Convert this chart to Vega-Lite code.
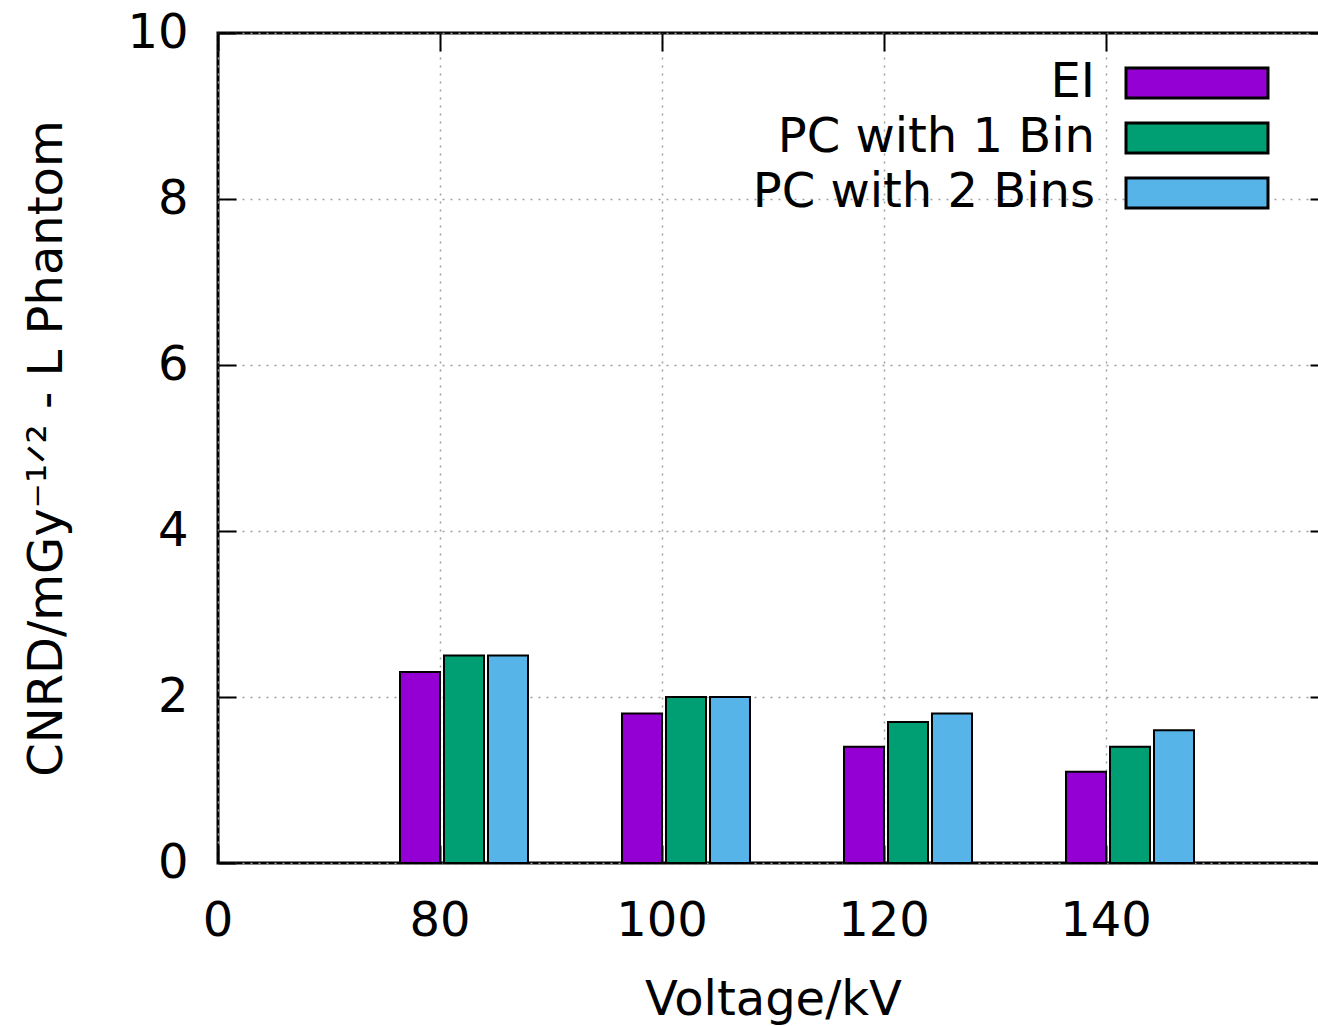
{
  "$schema": "https://vega.github.io/schema/vega-lite/v6.json",
  "width": 1110,
  "height": 830,
  "autosize": {"type": "none"},
  "padding": {"left": 218, "top": 33, "right": -10, "bottom": 163},
  "background": "white",
  "config": {
    "view": {"stroke": "black", "strokeWidth": 3},
    "font": "DejaVu Sans",
    "axis": {
      "labelFont": "DejaVu Sans", "labelFontSize": 48, "labelColor": "black",
      "titleFont": "DejaVu Sans", "titleFontSize": 48, "titleFontWeight": "normal", "titleColor": "black",
      "domain": false, "tickColor": "black", "tickWidth": 2, "tickSize": -18,
      "gridColor": "#a0a0a0", "gridDash": [2, 6], "gridWidth": 1.5
    }
  },
  "data": {"values": [
    {"kV": "80", "series": "EI", "value": 2.3},
    {"kV": "80", "series": "PC with 1 Bin", "value": 2.5},
    {"kV": "80", "series": "PC with 2 Bins", "value": 2.5},
    {"kV": "100", "series": "EI", "value": 1.8},
    {"kV": "100", "series": "PC with 1 Bin", "value": 2.0},
    {"kV": "100", "series": "PC with 2 Bins", "value": 2.0},
    {"kV": "120", "series": "EI", "value": 1.4},
    {"kV": "120", "series": "PC with 1 Bin", "value": 1.7},
    {"kV": "120", "series": "PC with 2 Bins", "value": 1.8},
    {"kV": "140", "series": "EI", "value": 1.1},
    {"kV": "140", "series": "PC with 1 Bin", "value": 1.4},
    {"kV": "140", "series": "PC with 2 Bins", "value": 1.6}
  ]},
  "layer": [
    {
      "mark": {"type": "bar", "stroke": "black", "strokeWidth": 2},
      "encoding": {
        "x": {
          "field": "kV", "type": "nominal",
          "scale": {"domain": ["0", "80", "100", "120", "140"], "paddingInner": 0, "paddingOuter": 0},
          "axis": {"title": "Voltage/kV", "labelAngle": 0, "bandPosition": 0, "labelOffset": -111, "labelPadding": 52, "titlePadding": 31, "grid": true}
        },
        "xOffset": {
          "field": "series", "type": "nominal",
          "scale": {"domain": ["EI", "PC with 1 Bin", "PC with 2 Bins"], "range": [-40, 88], "paddingInner": 0.0909, "paddingOuter": 0}
        },
        "y": {
          "field": "value", "type": "quantitative",
          "scale": {"domain": [0, 10]},
          "axis": {"title": "CNRD/mGy⁻¹ᐟ² - L Phantom", "values": [0, 2, 4, 6, 8, 10], "labelPadding": 48, "titlePadding": 55, "grid": true}
        },
        "fill": {
          "field": "series", "type": "nominal",
          "scale": {"domain": ["EI", "PC with 1 Bin", "PC with 2 Bins"], "range": ["#9400d3", "#009e73", "#56b4e9"]},
          "legend": {
            "orient": "none", "legendX": 955, "legendY": 26, "title": null,
            "symbolType": "M-4.733,-1L4.733,-1L4.733,1L-4.733,1Z", "symbolSize": 900,
            "symbolStrokeColor": "black", "symbolStrokeWidth": 3,
            "labelAlign": "right", "labelOffset": -126, "labelFontSize": 48, "labelFont": "DejaVu Sans",
            "labelColor": "black", "labelLimit": 1000, "rowPadding": 7, "padding": 0
          }
        }
      }
    },
    {
      "mark": {"type": "bar", "opacity": 0},
      "encoding": {
        "x": {
          "field": "kV", "type": "nominal",
          "scale": {"domain": ["0", "80", "100", "120", "140"], "paddingInner": 0, "paddingOuter": 0},
          "axis": {"orient": "top", "title": null, "labels": false, "grid": false, "bandPosition": 0}
        },
        "xOffset": {
          "field": "series", "type": "nominal",
          "scale": {"domain": ["EI", "PC with 1 Bin", "PC with 2 Bins"], "range": [-40, 88], "paddingInner": 0.0909, "paddingOuter": 0}
        },
        "y": {
          "field": "value", "type": "quantitative",
          "scale": {"domain": [0, 10]},
          "axis": {"orient": "right", "title": null, "labels": false, "grid": false, "values": [0, 2, 4, 6, 8, 10]}
        }
      }
    }
  ],
  "resolve": {"axis": {"x": "independent", "y": "independent"}}
}
